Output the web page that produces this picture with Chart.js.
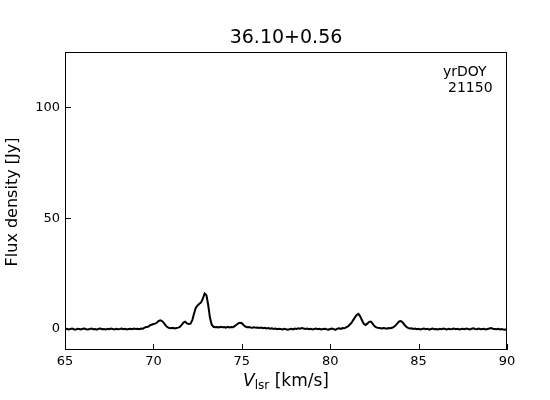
<!DOCTYPE html>
<html>
<head>
<meta charset="utf-8">
<script src="https://cdn.jsdelivr.net/npm/chart.js@4"></script>
<style>
html,body{margin:0;padding:0;background:#fff;}
#wrap{width:550px;height:400px;position:relative;}
</style>
</head>
<body>
<div id="wrap"><canvas id="c" width="550" height="400"></canvas></div>
<script>
const chartTitle = "36.10+0.56";
const yAxisTitle = "Flux density [Jy]";
const annotationLines = ["yrDOY", "21150"];
const xTicks = [65, 70, 75, 80, 85, 90];
const yTicks = [0, 50, 100];

const velocity = [
65.0,65.1,65.2,65.3,65.4,65.5,65.6,65.7,65.8,65.9,
66.0,66.1,66.2,66.3,66.4,66.5,66.6,66.7,66.8,66.9,
67.0,67.1,67.2,67.3,67.4,67.5,67.6,67.7,67.8,67.9,
68.0,68.1,68.2,68.3,68.4,68.5,68.6,68.7,68.8,68.9,
69.0,69.1,69.2,69.3,69.4,69.5,69.6,69.7,69.8,69.9,
70.0,70.1,70.2,70.3,70.4,70.5,70.6,70.7,70.8,70.9,
71.0,71.1,71.2,71.3,71.4,71.5,71.6,71.7,71.8,71.9,
72.0,72.1,72.2,72.3,72.4,72.5,72.6,72.7,72.8,72.9,
73.0,73.1,73.2,73.3,73.4,73.5,73.6,73.7,73.8,73.9,
74.0,74.1,74.2,74.3,74.4,74.5,74.6,74.7,74.8,74.9,
75.0,75.1,75.2,75.3,75.4,75.5,75.6,75.7,75.8,75.9,
76.0,76.1,76.2,76.3,76.4,76.5,76.6,76.7,76.8,76.9,
77.0,77.1,77.2,77.3,77.4,77.5,77.6,77.7,77.8,77.9,
78.0,78.1,78.2,78.3,78.4,78.5,78.6,78.7,78.8,78.9,
79.0,79.1,79.2,79.3,79.4,79.5,79.6,79.7,79.8,79.9,
80.0,80.1,80.2,80.3,80.4,80.5,80.6,80.7,80.8,80.9,
81.0,81.1,81.2,81.3,81.4,81.5,81.6,81.7,81.8,81.9,
82.0,82.1,82.2,82.3,82.4,82.5,82.6,82.7,82.8,82.9,
83.0,83.1,83.2,83.3,83.4,83.5,83.6,83.7,83.8,83.9,
84.0,84.1,84.2,84.3,84.4,84.5,84.6,84.7,84.8,84.9,
85.0,85.1,85.2,85.3,85.4,85.5,85.6,85.7,85.8,85.9,
86.0,86.1,86.2,86.3,86.4,86.5,86.6,86.7,86.8,86.9,
87.0,87.1,87.2,87.3,87.4,87.5,87.6,87.7,87.8,87.9,
88.0,88.1,88.2,88.3,88.4,88.5,88.6,88.7,88.8,88.9,
89.0,89.1,89.2,89.3,89.4,89.5,89.6,89.7,89.8,89.9,
90.0
];

const fluxDensity = [
-0.1,0.1,-0.2,0.0,0.2,-0.1,-0.3,0.1,0.0,-0.2,
0.1,0.2,-0.1,-0.2,0.0,0.2,-0.1,0.0,-0.3,0.1,
0.2,-0.1,0.0,-0.2,0.1,-0.1,0.2,0.0,-0.2,0.1,
-0.1,0.0,0.2,-0.1,0.1,-0.2,0.0,0.1,-0.1,0.2,
0.0,0.1,-0.1,0.2,0.1,0.6,0.9,1.0,1.6,1.9,
2.2,2.4,2.9,3.6,3.9,3.5,2.6,1.5,0.8,0.4,
0.3,0.5,0.2,0.4,0.6,0.9,1.8,2.9,3.3,2.5,
2.2,2.4,4.0,7.0,9.6,10.6,11.4,12.0,13.8,16.0,
15.2,10.8,5.0,1.9,1.0,0.8,0.9,0.7,1.0,0.8,
0.9,0.6,1.0,0.7,0.9,0.8,1.3,1.9,2.5,2.8,
2.6,1.8,1.1,0.8,0.9,0.7,0.6,0.8,0.5,0.6,
0.4,0.6,0.3,0.5,0.2,0.4,0.1,0.3,0.0,0.2,
-0.1,0.1,0.0,-0.2,0.1,-0.1,-0.3,-0.1,0.1,-0.2,
0.2,0.0,0.3,0.1,0.4,0.2,0.0,0.2,-0.1,0.1,
-0.2,0.0,0.2,-0.1,0.1,-0.2,0.0,0.1,-0.2,-0.3,
0.0,0.2,-0.1,-0.4,0.1,0.3,0.0,0.4,0.3,0.7,
1.1,1.9,2.7,4.0,5.2,6.3,6.8,5.6,3.9,2.3,
1.8,2.4,3.2,3.3,2.4,1.3,0.7,0.5,0.4,0.2,
0.4,0.3,0.1,0.4,0.3,0.5,0.9,1.6,2.5,3.4,
3.6,2.9,1.9,1.0,0.5,0.2,0.3,0.0,0.2,-0.1,
0.1,-0.2,0.0,0.2,-0.1,0.1,-0.3,0.0,0.2,-0.1,
0.0,-0.2,0.1,-0.1,0.2,0.0,-0.2,0.1,-0.1,0.0,
0.2,-0.1,0.1,-0.2,0.0,0.1,-0.1,0.2,0.0,-0.2,
0.1,0.3,0.0,-0.1,0.2,-0.1,0.0,0.1,-0.2,0.0,
0.2,0.4,0.1,0.0,-0.1,0.1,-0.2,0.0,-0.3,-0.4,
0.1
];

const points = velocity.map((v, i) => ({x: v, y: fluxDensity[i]}));
const FONT = "'DejaVu Sans', sans-serif";

const decor = {
  id: 'decor',
  afterDraw(chart) {
    const ctx = chart.ctx;
    const a = chart.chartArea;
    const xs = chart.scales.x, ys = chart.scales.y;
    ctx.save();
    // frame
    ctx.strokeStyle = '#000';
    ctx.lineWidth = 1;
    ctx.strokeRect(Math.round(a.left) + 0.5, Math.round(a.top) + 0.5,
                   Math.round(a.right - a.left) - 1, Math.round(a.bottom - a.top) - 1);
    // inward ticks
    ctx.beginPath();
    xs.ticks.forEach(t => {
      const px = Math.round(xs.getPixelForValue(t.value)) + 0.5;
      ctx.moveTo(px, a.bottom);
      ctx.lineTo(px, a.bottom - 6);
    });
    ys.ticks.forEach(t => {
      const py = Math.round(ys.getPixelForValue(t.value)) + 0.5;
      ctx.moveTo(a.left, py);
      ctx.lineTo(a.left + 6, py);
    });
    ctx.stroke();
    // title
    ctx.fillStyle = '#000';
    ctx.textAlign = 'center';
    ctx.textBaseline = 'middle';
    ctx.font = '19px ' + FONT;
    ctx.fillText(chartTitle, (a.left + a.right) / 2, 38);
    // y axis title
    ctx.save();
    ctx.translate(13, (a.top + a.bottom) / 2 + 1);
    ctx.rotate(-Math.PI / 2);
    ctx.font = '16px ' + FONT;
    ctx.fillText(yAxisTitle, 0, 0);
    ctx.restore();
    // x axis title: italic V with subscript lsr
    const cx = (a.left + a.right) / 2;
    const yb = 386;
    ctx.textAlign = 'left';
    ctx.textBaseline = 'alphabetic';
    const p1 = 'V', p2 = 'lsr', p3 = ' [km/s]';
    ctx.font = 'italic 17px ' + FONT;
    const w1 = ctx.measureText(p1).width;
    ctx.font = '12px ' + FONT;
    const w2 = ctx.measureText(p2).width;
    ctx.font = '17px ' + FONT;
    const w3 = ctx.measureText(p3).width;
    let x0 = cx - (w1 + w2 + w3) / 2;
    ctx.font = 'italic 17px ' + FONT;
    ctx.fillText(p1, x0, yb);
    ctx.font = '12px ' + FONT;
    ctx.fillText(p2, x0 + w1, yb + 3);
    ctx.font = '17px ' + FONT;
    ctx.fillText(p3, x0 + w1 + w2, yb);
    // annotation
    ctx.font = '14px ' + FONT;
    ctx.textBaseline = 'middle';
    ctx.fillText(annotationLines[0], 443, 72);
    ctx.fillText(annotationLines[1], 448, 88);
    ctx.restore();
  }
};

new Chart(document.getElementById('c'), {
  type: 'line',
  data: {
    datasets: [{
      data: points,
      borderColor: '#000',
      borderWidth: 2,
      pointRadius: 0,
      tension: 0,
      fill: false
    }]
  },
  options: {
    responsive: false,
    animation: false,
    devicePixelRatio: 1,
    layout: {padding: {top: 52, right: 43, left: 0, bottom: 0}},
    plugins: {legend: {display: false}, tooltip: {enabled: false}, title: {display: false}},
    scales: {
      x: {
        type: 'linear',
        min: 65, max: 90,
        afterFit(s) { s.height = 50; },
        afterBuildTicks(s) { s.ticks = xTicks.map(v => ({value: v})); },
        grid: {display: false, drawTicks: false},
        border: {display: false},
        ticks: {color: '#000', font: {family: FONT, size: 13}, padding: 4, maxRotation: 0}
      },
      y: {
        type: 'linear',
        min: -9.5, max: 125,
        afterFit(s) { s.width = 65; },
        afterBuildTicks(s) { s.ticks = yTicks.map(v => ({value: v})); },
        grid: {display: false, drawTicks: false},
        border: {display: false},
        ticks: {color: '#000', font: {family: FONT, size: 13}, padding: 5}
      }
    }
  },
  plugins: [decor]
});
</script>
</body>
</html>
